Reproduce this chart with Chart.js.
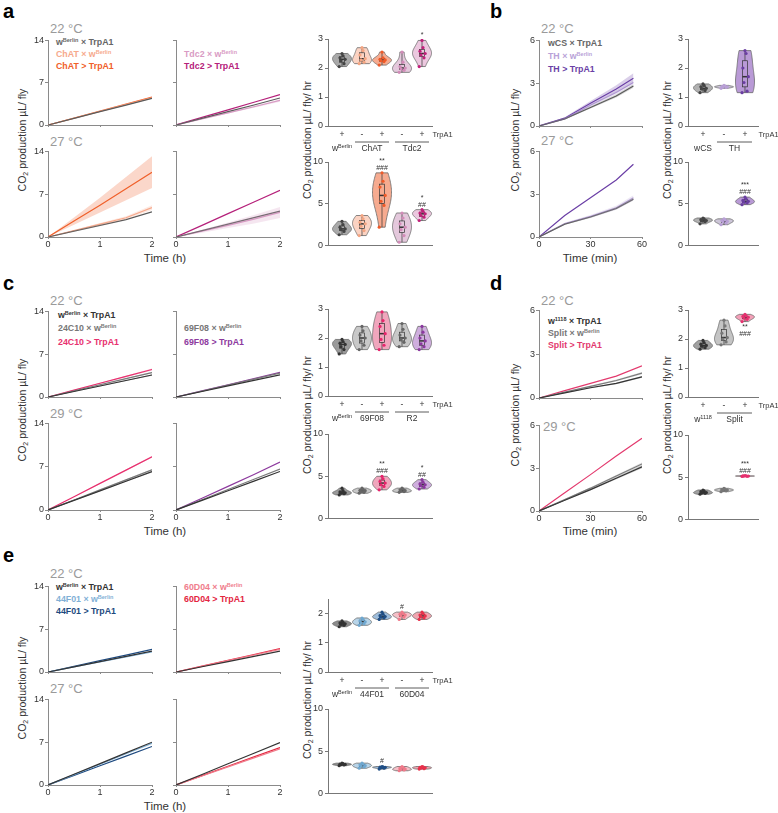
<!DOCTYPE html>
<html>
<head>
<meta charset="utf-8">
<script src="https://cdn.jsdelivr.net/npm/chart.js@4.4.1/dist/chart.umd.min.js"></script>
<style>
body { margin: 0; background: #fff; }
#fig { position: relative; width: 778px; height: 813px; overflow: hidden; font-family: 'Liberation Sans', Arial, sans-serif; }
#fig canvas { position: absolute; }
.t { position: absolute; white-space: nowrap; line-height: 1; transform: translateY(-50%); }
.pl { font-size: 20px; font-weight: bold; color: #000; }
.temp { font-size: 13px; color: #9a9a9a; }
.leg { font-size: 8.8px; font-weight: bold; }
.leg sup { font-size: 5.5px; vertical-align: 3px; line-height: 0; }
.yt { font-size: 10.5px; color: #333; transform: translate(-50%, -50%) rotate(-90deg); }
.xt { font-size: 11.5px; color: #333; transform: translate(-50%, -50%); }
sub { font-size: 7px; vertical-align: -2px; line-height: 0; }
</style>
</head>
<body>
<div id="fig">
  <!-- panel letters -->
  <div class="t pl" style="left:3px;top:11px">a</div>
  <div class="t pl" style="left:490px;top:11px">b</div>
  <div class="t pl" style="left:3px;top:283px">c</div>
  <div class="t pl" style="left:490px;top:283px">d</div>
  <div class="t pl" style="left:3px;top:555px">e</div>

  <!-- temperatures -->
  <div class="t temp" style="left:50px;top:28px">22 °C</div>
  <div class="t temp" style="left:50px;top:141px">27 °C</div>
  <div class="t temp" style="left:541px;top:28px">22 °C</div>
  <div class="t temp" style="left:541px;top:140px">27 °C</div>
  <div class="t temp" style="left:50px;top:300px">22 °C</div>
  <div class="t temp" style="left:50px;top:413px">29 °C</div>
  <div class="t temp" style="left:541px;top:300px">22 °C</div>
  <div class="t temp" style="left:543px;top:426px">29 °C</div>
  <div class="t temp" style="left:50px;top:573px">22 °C</div>
  <div class="t temp" style="left:50px;top:688px">27 °C</div>

  <!-- legends -->
  <div class="t leg" style="left:56px;top:42px;color:#666">w<sup>Berlin</sup> × TrpA1</div>
  <div class="t leg" style="left:56px;top:54px;color:#f6a98c">ChAT × w<sup>Berlin</sup></div>
  <div class="t leg" style="left:56px;top:66px;color:#f0602a">ChAT &gt; TrpA1</div>
  <div class="t leg" style="left:184px;top:54px;color:#d99bc4">Tdc2 × w<sup>Berlin</sup></div>
  <div class="t leg" style="left:184px;top:66px;color:#b5207a">Tdc2 &gt; TrpA1</div>

  <div class="t leg" style="left:548px;top:43px;color:#666">wCS × TrpA1</div>
  <div class="t leg" style="left:548px;top:56px;color:#b9a2d8">TH × w<sup>Berlin</sup></div>
  <div class="t leg" style="left:548px;top:69px;color:#6b3fa6">TH &gt; TrpA1</div>

  <div class="t leg" style="left:58px;top:315px;color:#333">w<sup>Berlin</sup> × TrpA1</div>
  <div class="t leg" style="left:58px;top:328px;color:#777">24C10 × w<sup>Berlin</sup></div>
  <div class="t leg" style="left:58px;top:342px;color:#e8316f">24C10 &gt; TrpA1</div>
  <div class="t leg" style="left:184px;top:328px;color:#777">69F08 × w<sup>Berlin</sup></div>
  <div class="t leg" style="left:184px;top:342px;color:#8d3a9e">69F08 &gt; TrpA1</div>

  <div class="t leg" style="left:548px;top:321px;color:#333">w<sup>1118</sup> × TrpA1</div>
  <div class="t leg" style="left:548px;top:333px;color:#777">Split × w<sup>Berlin</sup></div>
  <div class="t leg" style="left:548px;top:345px;color:#e33a6e">Split &gt; TrpA1</div>

  <div class="t leg" style="left:56px;top:587px;color:#333">w<sup>Berlin</sup> × TrpA1</div>
  <div class="t leg" style="left:56px;top:599px;color:#7fb0d6">44F01 × w<sup>Berlin</sup></div>
  <div class="t leg" style="left:56px;top:611px;color:#1e4a80">44F01 &gt; TrpA1</div>
  <div class="t leg" style="left:184px;top:587px;color:#f07d8c">60D04 × w<sup>Berlin</sup></div>
  <div class="t leg" style="left:184px;top:599px;color:#e3263f">60D04 &gt; TrpA1</div>

  <!-- axis titles -->
  <div class="t yt" style="left:22px;top:140px">CO<sub>2</sub> production µL/ fly</div>
  <div class="t yt" style="left:515px;top:140px">CO<sub>2</sub> production µL/ fly</div>
  <div class="t yt" style="left:22px;top:410px">CO<sub>2</sub> production µL/ fly</div>
  <div class="t yt" style="left:515px;top:415px">CO<sub>2</sub> production µL/ fly</div>
  <div class="t yt" style="left:22px;top:688px">CO<sub>2</sub> production µL/ fly</div>
  <div class="t yt" style="left:307px;top:140px">CO<sub>2</sub> production µL/ fly/ hr</div>
  <div class="t yt" style="left:667px;top:140px">CO<sub>2</sub> production µL/ fly/ hr</div>
  <div class="t yt" style="left:307px;top:415px">CO<sub>2</sub> production µL/ fly/ hr</div>
  <div class="t yt" style="left:667px;top:415px">CO<sub>2</sub> production µL/ fly/ hr</div>
  <div class="t yt" style="left:307px;top:700px">CO<sub>2</sub> production µL/ fly/ hr</div>

  <div class="t xt" style="left:165px;top:259px">Time (h)</div>
  <div class="t xt" style="left:590px;top:259px">Time (min)</div>
  <div class="t xt" style="left:165px;top:532px">Time (h)</div>
  <div class="t xt" style="left:590px;top:532px">Time (min)</div>
  <div class="t xt" style="left:165px;top:807px">Time (h)</div>
</div>

<script>
const F = "'Liberation Sans', Arial, sans-serif";
const fig = document.getElementById('fig');

// ---- time points ----
const hrs = [0, 0.5, 1, 1.5, 2];
const minB = [0, 15, 30, 45, 55];
const minD = [0, 15, 30, 45, 60];

// ---- line data, CO2 µL/fly (mean, sem) ----
// a
const a22_w = [0, 1.1, 2.2, 3.3, 4.4];
const a22_chatW = [0, 1.12, 2.25, 3.37, 4.5];
const a22_chatT = [0, 1.15, 2.3, 3.45, 4.6];
const a22_w2 = [0, 1.1, 2.2, 3.3, 4.45];
const a22_tdcW = [0, 1.0, 2.0, 3.0, 4.05];
const a22_tdcW_e = [0, 0.05, 0.1, 0.15, 0.2];
const a22_tdcT = [0, 1.25, 2.5, 3.75, 5.0];
const a27_w = [0, 0.95, 1.9, 2.85, 4.1];
const a27_chatW = [0, 1.05, 2.1, 3.15, 4.8];
const a27_chatW_e = [0, 0.1, 0.2, 0.25, 0.4];
const a27_chatT = [0, 2.6, 5.2, 7.9, 10.6];
const a27_chatT_e = [0, 0.6, 1.2, 1.9, 2.6];
const a27_w2 = [0, 1.05, 2.1, 3.15, 4.2];
const a27_tdcW = [0, 0.95, 1.9, 2.9, 4.0];
const a27_tdcW_e = [0, 0.25, 0.45, 0.7, 0.9];
const a27_tdcT = [0, 1.9, 3.8, 5.7, 7.6];
// b
const b22_w = [0, 0.5, 1.3, 2.1, 2.8];
const b22_w_e = [0, 0.04, 0.08, 0.1, 0.12];
const b22_thW = [0, 0.5, 1.45, 2.35, 3.05];
const b22_thW_e = [0, 0.05, 0.1, 0.14, 0.16];
const b22_thT = [0, 0.55, 1.6, 2.6, 3.35];
const b22_thT_e = [0, 0.06, 0.15, 0.25, 0.35];
const b27_w = [0, 0.9, 1.4, 2.0, 2.65];
const b27_w_e = [0, 0.04, 0.06, 0.08, 0.1];
const b27_thW = [0, 0.95, 1.45, 2.05, 2.75];
const b27_thW_e = [0, 0.05, 0.1, 0.14, 0.18];
const b27_thT = [0, 1.5, 2.75, 4.0, 5.1];
// c
const c22_w = [0, 0.9, 1.8, 2.7, 3.6];
const c22_w_e = [0, 0.05, 0.08, 0.1, 0.12];
const c22_cW = [0, 1.0, 2.0, 3.0, 4.0];
const c22_cW_e = [0, 0.05, 0.08, 0.1, 0.12];
const c22_cT = [0, 1.12, 2.25, 3.37, 4.5];
const c22_cT_e = [0, 0.05, 0.1, 0.12, 0.15];
const c22_w2 = [0, 0.9, 1.8, 2.7, 3.6];
const c22_fW = [0, 0.97, 1.95, 2.9, 3.9];
const c22_fT = [0, 1.0, 2.0, 3.0, 4.0];
const c29_w = [0, 1.55, 3.1, 4.65, 6.2];
const c29_w_e = [0, 0.05, 0.08, 0.1, 0.12];
const c29_cW = [0, 1.62, 3.25, 4.87, 6.5];
const c29_cW_e = [0, 0.05, 0.08, 0.1, 0.12];
const c29_cT = [0, 2.15, 4.3, 6.45, 8.6];
const c29_cT_e = [0, 0.05, 0.08, 0.1, 0.12];
const c29_w2 = [0, 1.55, 3.1, 4.65, 6.2];
const c29_fW = [0, 1.65, 3.3, 4.95, 6.6];
const c29_fT = [0, 1.9, 3.8, 5.7, 7.7];
// d
const d22_w = [0, 0.35, 0.7, 1.0, 1.45];
const d22_w_e = [0, 0.03, 0.04, 0.05, 0.06];
const d22_sW = [0, 0.4, 0.8, 1.2, 1.7];
const d22_sW_e = [0, 0.03, 0.05, 0.07, 0.08];
const d22_sT = [0, 0.5, 1.0, 1.5, 2.2];
const d29_w = [0, 0.75, 1.5, 2.3, 3.1];
const d29_w_e = [0, 0.04, 0.06, 0.08, 0.1];
const d29_sW = [0, 0.8, 1.6, 2.45, 3.3];
const d29_sW_e = [0, 0.04, 0.06, 0.08, 0.1];
const d29_sT = [0, 1.28, 2.55, 3.85, 5.1];
// e
const e22_w = [0, 0.85, 1.7, 2.55, 3.4];
const e22_fW = [0, 0.82, 1.65, 2.47, 3.3];
const e22_fT = [0, 0.92, 1.85, 2.77, 3.7];
const e22_w2 = [0, 0.85, 1.7, 2.55, 3.4];
const e22_dW = [0, 0.92, 1.85, 2.77, 3.7];
const e22_dT = [0, 0.95, 1.9, 2.85, 3.8];
const e27_w = [0, 1.75, 3.5, 5.25, 7.0];
const e27_fW = [0, 1.7, 3.4, 5.1, 6.8];
const e27_fT = [0, 1.57, 3.15, 4.72, 6.3];
const e27_w2 = [0, 1.72, 3.45, 5.17, 6.9];
const e27_dW = [0, 1.47, 2.95, 4.42, 5.9];
const e27_dT = [0, 1.52, 3.05, 4.57, 6.1];

// ---- violin data, CO2 µL/fly/hr (individual flies) ----
const aTop = [[2.05, 2.15, 2.25, 2.3, 2.35, 2.42, 2.5], [2.15, 2.2, 2.28, 2.32, 2.45, 2.6, 2.7], [2.1, 2.22, 2.25, 2.28, 2.3, 2.35, 2.55], [1.85, 1.92, 1.97, 2.0, 2.05, 2.2, 2.55], [2.05, 2.35, 2.45, 2.5, 2.58, 2.7, 2.95]];
const aBot = [[1.3, 1.7, 1.9, 2.0, 2.2, 2.5, 2.9], [1.2, 1.8, 2.3, 2.6, 2.8, 3.2, 3.6], [2.2, 4.8, 5.3, 6.0, 7.0, 7.7, 8.7], [0.4, 1.2, 1.9, 2.2, 2.6, 3.3, 3.9], [3.0, 3.4, 3.6, 3.8, 3.9, 4.1, 4.3]];
const bTop = [[1.15, 1.22, 1.28, 1.3, 1.35, 1.4, 1.45], [1.3, 1.33, 1.34, 1.35, 1.36, 1.38, 1.4], [1.15, 1.2, 1.5, 1.7, 2.0, 2.5, 2.6]];
const bBot = [[2.6, 2.85, 2.95, 3.0, 3.1, 3.2, 3.3], [2.5, 2.7, 2.85, 2.9, 3.0, 3.1, 3.2], [4.9, 5.1, 5.2, 5.3, 5.4, 5.6, 5.8]];
const cTop = [[1.45, 1.6, 1.7, 1.78, 1.82, 1.88, 1.95], [1.6, 1.75, 1.9, 2.0, 2.1, 2.25, 2.4], [1.6, 1.75, 1.95, 2.15, 2.4, 2.6, 2.9], [1.7, 1.85, 1.95, 2.0, 2.1, 2.3, 2.5], [1.6, 1.7, 1.8, 1.9, 2.0, 2.2, 2.4]];
const cBot = [[2.8, 2.95, 3.0, 3.05, 3.15, 3.3, 3.6], [3.0, 3.1, 3.2, 3.3, 3.35, 3.45, 3.6], [3.4, 3.8, 4.0, 4.2, 4.4, 4.7, 5.0], [3.1, 3.2, 3.25, 3.3, 3.4, 3.5, 3.6], [3.5, 3.7, 3.9, 4.0, 4.1, 4.3, 4.6]];
const dTop = [[1.65, 1.7, 1.75, 1.78, 1.82, 1.88, 1.95], [1.8, 1.9, 2.0, 2.05, 2.2, 2.45, 2.65], [2.6, 2.68, 2.72, 2.75, 2.78, 2.8, 2.85]];
const dBot = [[3.0, 3.1, 3.15, 3.2, 3.3, 3.4, 3.5], [3.3, 3.4, 3.45, 3.5, 3.55, 3.6, 3.7], [5.1, 5.12, 5.14, 5.15, 5.16, 5.18, 5.2]];
const eTop = [[1.55, 1.6, 1.63, 1.65, 1.68, 1.7, 1.75], [1.6, 1.65, 1.68, 1.72, 1.75, 1.8, 1.85], [1.8, 1.85, 1.88, 1.9, 1.93, 1.98, 2.05], [1.8, 1.88, 1.92, 1.95, 1.98, 2.0, 2.05], [1.8, 1.85, 1.9, 1.92, 1.95, 2.0, 2.05]];
const eBot = [[3.3, 3.38, 3.42, 3.45, 3.5, 3.55, 3.6], [3.0, 3.15, 3.25, 3.3, 3.4, 3.5, 3.6], [2.9, 3.0, 3.05, 3.1, 3.12, 3.15, 3.2], [2.7, 2.8, 2.85, 2.9, 3.0, 3.1, 3.2], [2.9, 2.95, 3.0, 3.05, 3.1, 3.15, 3.2]];

// significance marks
const aTopStars = ['', '', '', '', '*'];
const aBotStars = ['', '', '**|###', '', '*|##'];
const bBotStars = ['', '', '***|###'];
const cBotStars = ['', '', '**|###', '', '*|##'];
const dTopStars = ['', '', '**|###'];
const dBotStars = ['', '', '***|###'];
const eTopStars = ['', '', '', '#', ''];
const eBotStars = ['', '', '#', '', ''];

// genotype rows
const signs5 = ['+', '-', '+', '-', '+'];
const signs3 = ['+', '-', '+'];
const spans5 = [[0, 0], [1, 2], [3, 4]];
const spans3 = [[0, 0], [1, 2]];
const aGroups = ['w^Berlin', 'ChAT', 'Tdc2'];
const bGroups = ['wCS', 'TH'];
const cGroups = ['w^Berlin', '69F08', 'R2'];
const dGroups = ['w^1118', 'Split'];
const eGroups = ['w^Berlin', '44F01', '60D04'];

// ---- helpers ----
function canvasAt(left, top, w, h) {
  const c = document.createElement('canvas');
  c.width = w; c.height = h;
  c.style.left = left + 'px';
  c.style.top = top + 'px';
  c.style.width = w + 'px';
  c.style.height = h + 'px';
  fig.appendChild(c);
  return c;
}

// box = [axis left, axis top, axis width, axis height] in page px
function lineChart(box, xs, xmax, xstep, ymax, lines, showX, showY) {
  const [L, T, W, H] = box;
  const pl = 28, pt = 6, pr = 8, pb = 18;
  const cv = canvasAt(L - pl, T - pt, W + pl + pr, H + pt + pb);
  const ds = [];
  lines.forEach(l => {
    if (!l.e) return;
    ds.push({ data: xs.map((t, i) => ({ x: t, y: l.d[i] + l.e[i] })), borderWidth: 0, pointRadius: 0, fill: false });
    ds.push({ data: xs.map((t, i) => ({ x: t, y: l.d[i] - l.e[i] })), borderWidth: 0, pointRadius: 0, fill: '-1', backgroundColor: l.c + '40' });
  });
  lines.forEach(l => ds.push({ data: xs.map((t, i) => ({ x: t, y: l.d[i] })), borderColor: l.c, borderWidth: 1.2, pointRadius: 0, fill: false }));
  new Chart(cv, {
    type: 'line',
    data: { datasets: ds },
    options: {
      responsive: false, animation: false,
      layout: { padding: { top: pt, right: pr, left: 0, bottom: 0 } },
      plugins: { legend: { display: false }, tooltip: { enabled: false } },
      scales: {
        x: {
          type: 'linear', min: 0, max: xmax,
          ticks: { stepSize: xstep, display: showX, font: { family: F, size: 9 }, color: '#333', padding: 0, maxRotation: 0 },
          grid: { drawOnChartArea: false, tickLength: 2, color: '#8a8a8a' },
          border: { color: '#8a8a8a' },
          afterFit: s => { s.height = pb; }
        },
        y: {
          min: 0, max: ymax,
          ticks: { stepSize: ymax / 2, display: showY, font: { family: F, size: 9 }, color: '#333', padding: 1 },
          grid: { drawOnChartArea: false, tickLength: 3, color: '#8a8a8a' },
          border: { color: '#8a8a8a' },
          afterFit: s => { s.width = pl; }
        }
      }
    }
  });
}

const jit = [-0.14, 0.1, -0.05, 0.16, -0.1, 0.05, 0.0];

function quant(s, p) {
  const idx = (s.length - 1) * p, lo = Math.floor(idx), hi = Math.ceil(idx);
  return s[lo] + (s[hi] - s[lo]) * (idx - lo);
}

function supText(ctx, t, cx, cy) {
  const [base, sup = ''] = t.split('^');
  ctx.font = `8.5px ${F}`;
  const w1 = ctx.measureText(base).width;
  ctx.font = `5.5px ${F}`;
  const w2 = ctx.measureText(sup).width;
  const x0 = cx - (w1 + w2) / 2;
  ctx.textAlign = 'left';
  ctx.font = `8.5px ${F}`;
  ctx.fillText(base, x0, cy);
  ctx.font = `5.5px ${F}`;
  ctx.fillText(sup, x0 + w1, cy - 3);
}

function violinPlugin(cfg) {
  return {
    id: 'violins',
    beforeDatasetsDraw(chart) {
      const { ctx, scales: { x, y } } = chart;
      cfg.vals.forEach((v, i) => {
        const s = [...v].sort((a, b) => a - b), n = s.length;
        const m = s.reduce((a, b) => a + b, 0) / n;
        const sd = Math.sqrt(s.reduce((a, b) => a + (b - m) ** 2, 0) / (n - 1));
        const bw = Math.max(1.06 * sd * Math.pow(n, -0.2), 1e-3);
        const prof = [];
        for (let k = 0; k <= 40; k++) {
          const val = s[0] + (s[n - 1] - s[0]) * k / 40;
          let d = 0;
          s.forEach(p => { d += Math.exp(-0.5 * ((val - p) / bw) ** 2); });
          prof.push([val, d]);
        }
        const dmax = Math.max(...prof.map(p => p[1]));
        const cx = x.getPixelForValue(i), hw = cfg.half;
        ctx.save();
        ctx.beginPath();
        prof.forEach(([val, d], k) => {
          const px = cx + hw * d / dmax, py = y.getPixelForValue(val);
          k ? ctx.lineTo(px, py) : ctx.moveTo(px, py);
        });
        for (let k = prof.length - 1; k >= 0; k--) {
          ctx.lineTo(cx - hw * prof[k][1] / dmax, y.getPixelForValue(prof[k][0]));
        }
        ctx.closePath();
        ctx.fillStyle = cfg.fills[i];
        ctx.fill();
        ctx.strokeStyle = '#6a6a6a';
        ctx.lineWidth = 0.8;
        ctx.stroke();
        // box + whiskers
        const q1 = y.getPixelForValue(quant(s, 0.25)), q3 = y.getPixelForValue(quant(s, 0.75));
        const md = y.getPixelForValue(quant(s, 0.5));
        ctx.strokeStyle = '#333';
        ctx.lineWidth = 0.7;
        ctx.beginPath();
        ctx.moveTo(cx, y.getPixelForValue(s[0])); ctx.lineTo(cx, q1);
        ctx.moveTo(cx, q3); ctx.lineTo(cx, y.getPixelForValue(s[n - 1]));
        ctx.stroke();
        ctx.strokeRect(cx - 2.5, q3, 5, q1 - q3);
        ctx.lineWidth = 1.5;
        ctx.beginPath();
        ctx.moveTo(cx - 2.5, md); ctx.lineTo(cx + 2.5, md);
        ctx.stroke();
        ctx.restore();
      });
    },
    afterDatasetsDraw(chart) {
      if (!cfg.stars) return;
      const { ctx, scales: { x, y } } = chart;
      ctx.save();
      ctx.font = `7px ${F}`;
      ctx.fillStyle = '#333';
      ctx.textAlign = 'center';
      ctx.textBaseline = 'middle';
      cfg.stars.forEach((st, i) => {
        if (!st) return;
        const lines = st.split('|');
        const cx = x.getPixelForValue(i);
        if (cfg.below) {
          let yy = y.getPixelForValue(Math.min(...cfg.vals[i])) + 5;
          lines.forEach(t => { ctx.fillText(t, cx, yy); yy += 7; });
        } else {
          let yy = y.getPixelForValue(Math.max(...cfg.vals[i])) - 5;
          [...lines].reverse().forEach(t => { ctx.fillText(t, cx, yy); yy -= 7; });
        }
      });
      ctx.restore();
    },
    afterDraw(chart) {
      if (!cfg.signs) return;
      const { ctx, chartArea, scales: { x } } = chart;
      const b = chartArea.bottom;
      ctx.save();
      ctx.fillStyle = '#333';
      ctx.strokeStyle = '#333';
      ctx.textBaseline = 'middle';
      ctx.font = `8.5px ${F}`;
      ctx.textAlign = 'center';
      cfg.signs.forEach((t, i) => ctx.fillText(t, x.getPixelForValue(i), b + 9));
      ctx.textAlign = 'left';
      ctx.font = `7.5px ${F}`;
      ctx.fillText('TrpA1', chartArea.right + 0.5, b + 9);
      cfg.groups.forEach((g, j) => {
        const [i0, i1] = cfg.spans[j];
        const x0 = x.getPixelForValue(i0), x1 = x.getPixelForValue(i1);
        if (i1 > i0) {
          ctx.lineWidth = 0.8;
          ctx.beginPath();
          ctx.moveTo(x0 - 7, b + 16); ctx.lineTo(x1 + 7, b + 16);
          ctx.stroke();
        }
        supText(ctx, g, (x0 + x1) / 2, b + 23);
      });
      ctx.restore();
    }
  };
}

function violinChart(box, xmin, xmax, ymax, ystep, cfg) {
  const [L, T, W, H] = box;
  const pl = 26, pt = 14, pr = 34, pb = cfg.signs ? 32 : 4;
  const cv = canvasAt(L - pl, T - pt, W + pl + pr, H + pt + pb);
  const ds = cfg.vals.map((v, i) => ({
    data: v.map((val, k) => ({ x: i + jit[k % jit.length], y: val })),
    backgroundColor: cfg.dots[i], borderWidth: 0, pointRadius: 1.6
  }));
  cfg.half = cfg.half || 9.5;
  new Chart(cv, {
    type: 'scatter',
    data: { datasets: ds },
    options: {
      responsive: false, animation: false,
      layout: { padding: { top: pt, right: pr, left: 0, bottom: pb } },
      plugins: { legend: { display: false }, tooltip: { enabled: false } },
      scales: {
        x: {
          type: 'linear', min: xmin, max: xmax,
          ticks: { display: false },
          grid: { drawOnChartArea: false, drawTicks: false },
          border: { color: '#777' },
          afterFit: s => { s.height = 0; }
        },
        y: {
          min: 0, max: ymax,
          ticks: { stepSize: ystep, font: { family: F, size: 9 }, color: '#333', padding: 2 },
          afterBuildTicks: s => { s.ticks = s.ticks.filter(t => Number.isInteger(t.value / ystep)); },
          grid: { drawOnChartArea: false, tickLength: 3, color: '#777' },
          border: { color: '#777' },
          afterFit: s => { s.width = pl; }
        }
      }
    },
    plugins: [violinPlugin(cfg)]
  });
}

// ---- colours ----
const GREY = '#5a5a5a', DARK = '#333333', MID = '#7a7a7a';

// ---- panel a ----
lineChart([48, 40, 104, 85], hrs, 2, 1, 14, [
  { d: a22_w, c: GREY }, { d: a22_chatW, c: '#f6a98c' }, { d: a22_chatT, c: '#f0602a' }], false, true);
lineChart([176, 40, 104, 85], hrs, 2, 1, 14, [
  { d: a22_w2, c: GREY }, { d: a22_tdcW, c: '#d99bc4', e: a22_tdcW_e }, { d: a22_tdcT, c: '#b5207a' }], false, false);
lineChart([48, 151, 104, 86], hrs, 2, 1, 14, [
  { d: a27_w, c: GREY }, { d: a27_chatW, c: '#f6a98c', e: a27_chatW_e }, { d: a27_chatT, c: '#f0602a', e: a27_chatT_e }], true, true);
lineChart([176, 151, 104, 86], hrs, 2, 1, 14, [
  { d: a27_w2, c: GREY }, { d: a27_tdcW, c: '#d99bc4', e: a27_tdcW_e }, { d: a27_tdcT, c: '#b5207a' }], true, false);

const aFills = ['#a9a9a9', '#fbd3c3', '#f6ab90', '#e4c8dc', '#ecc8df'];
const aDots = ['#444', '#f4a582', '#f05a28', '#d28bb8', '#c2207a'];
violinChart([328, 39, 104, 87], -0.7, 4.5, 3, 1, { vals: aTop, fills: aFills, dots: aDots, stars: aTopStars, signs: signs5, groups: aGroups, spans: spans5 });
violinChart([328, 162, 104, 87], -0.7, 4.5, 10, 5, { vals: aBot, fills: aFills, dots: aDots, stars: aBotStars });

// ---- panel b ----
lineChart([539, 40, 103, 86], minB, 60, 30, 6, [
  { d: b22_w, c: GREY, e: b22_w_e }, { d: b22_thW, c: '#b9a2d8', e: b22_thW_e }, { d: b22_thT, c: '#6b3fa6', e: b22_thT_e }], false, true);
lineChart([539, 151, 103, 86], minB, 60, 30, 6, [
  { d: b27_w, c: GREY, e: b27_w_e }, { d: b27_thW, c: '#b9a2d8', e: b27_thW_e }, { d: b27_thT, c: '#6b3fa6' }], true, true);

const bFills = ['#b0b0b0', '#cdc6d8', '#b99ad6'];
const bDots = ['#444', '#b9a0d6', '#6a3ea1'];
violinChart([688, 39, 70, 87], -0.714, 2.62, 3, 1, { vals: bTop, fills: bFills, dots: bDots, signs: signs3, groups: bGroups, spans: spans3 });
violinChart([688, 162, 70, 87], -0.714, 2.62, 10, 5, { vals: bBot, fills: bFills, dots: bDots, stars: bBotStars });

// ---- panel c ----
lineChart([48, 311, 104, 86], hrs, 2, 1, 14, [
  { d: c22_w, c: DARK, e: c22_w_e }, { d: c22_cW, c: MID, e: c22_cW_e }, { d: c22_cT, c: '#e8316f', e: c22_cT_e }], false, true);
lineChart([176, 311, 104, 86], hrs, 2, 1, 14, [
  { d: c22_w2, c: DARK }, { d: c22_fW, c: MID }, { d: c22_fT, c: '#8d3a9e' }], false, false);
lineChart([48, 423, 104, 87], hrs, 2, 1, 14, [
  { d: c29_w, c: DARK, e: c29_w_e }, { d: c29_cW, c: MID, e: c29_cW_e }, { d: c29_cT, c: '#e8316f', e: c29_cT_e }], true, true);
lineChart([176, 423, 104, 87], hrs, 2, 1, 14, [
  { d: c29_w2, c: DARK }, { d: c29_fW, c: MID }, { d: c29_fT, c: '#8d3a9e' }], true, false);

const cFills = ['#9a9a9a', '#c8c8c8', '#f0a6bd', '#c8c8c8', '#cfaede'];
const cDots = ['#333', '#666', '#e8246c', '#666', '#8b38a0'];
violinChart([328, 309, 104, 87], -0.7, 4.5, 3, 1, { vals: cTop, fills: cFills, dots: cDots, signs: signs5, groups: cGroups, spans: spans5 });
violinChart([328, 434, 104, 88], -0.7, 4.5, 10, 5, { vals: cBot, fills: cFills, dots: cDots, stars: cBotStars });

// ---- panel d ----
lineChart([539, 310, 103, 88], minD, 60, 30, 6, [
  { d: d22_w, c: DARK, e: d22_w_e }, { d: d22_sW, c: MID, e: d22_sW_e }, { d: d22_sT, c: '#e33a6e' }], false, true);
lineChart([539, 425, 103, 86], minD, 60, 30, 6, [
  { d: d29_w, c: DARK, e: d29_w_e }, { d: d29_sW, c: MID, e: d29_sW_e }, { d: d29_sT, c: '#e33a6e' }], true, true);

const dFills = ['#a0a0a0', '#c4c4c4', '#f3a0b8'];
const dDots = ['#333', '#777', '#e5306e'];
violinChart([688, 310, 70, 87], -0.714, 2.62, 3, 1, { vals: dTop, fills: dFills, dots: dDots, stars: dTopStars, below: true, signs: signs3, groups: dGroups, spans: spans3 });
violinChart([688, 435, 70, 88], -0.714, 2.62, 10, 5, { vals: dBot, fills: dFills, dots: dDots, stars: dBotStars });

// ---- panel e ----
lineChart([48, 586, 104, 86], hrs, 2, 1, 14, [
  { d: e22_w, c: DARK }, { d: e22_fW, c: '#7fb0d6' }, { d: e22_fT, c: '#1e4a80' }], false, true);
lineChart([176, 586, 104, 86], hrs, 2, 1, 14, [
  { d: e22_w2, c: DARK }, { d: e22_dW, c: '#f07d8c' }, { d: e22_dT, c: '#e3263f' }], false, false);
lineChart([48, 699, 104, 86], hrs, 2, 1, 14, [
  { d: e27_w, c: DARK }, { d: e27_fW, c: '#7fb0d6' }, { d: e27_fT, c: '#1e4a80' }], true, true);
lineChart([176, 699, 104, 86], hrs, 2, 1, 14, [
  { d: e27_w2, c: DARK }, { d: e27_dW, c: '#f07d8c' }, { d: e27_dT, c: '#e3263f' }], true, false);

const eFills = ['#8c8c8c', '#b8d4e8', '#9dbcda', '#f4c0c8', '#f0a6b0'];
const eDots = ['#333', '#6fa8d0', '#1f4e85', '#f07a8a', '#e8304a'];
violinChart([328, 599, 104, 73], -0.7, 4.5, 2.5, 1, { vals: eTop, fills: eFills, dots: eDots, stars: eTopStars, signs: signs5, groups: eGroups, spans: spans5 });
violinChart([328, 709, 104, 88], -0.7, 4.5, 10, 5, { vals: eBot, fills: eFills, dots: eDots, stars: eBotStars });
</script>
</body>
</html>
